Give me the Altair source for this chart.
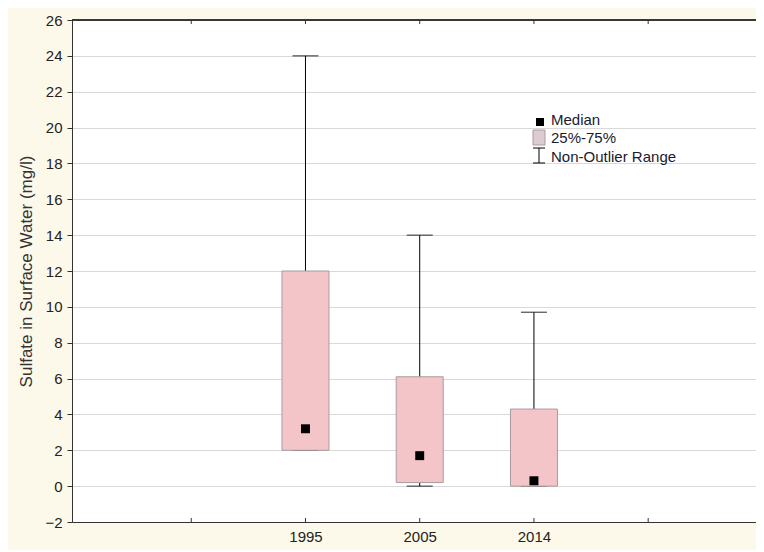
import altair as alt
import pandas as pd

years = ["1995", "2005", "2014"]
q1 = [2.0, 0.2, 0.0]
q3 = [12.0, 6.1, 4.3]
median = [3.2, 1.7, 0.3]
wmin = [2.0, 0.0, 0.0]
wmax = [24.0, 14.0, 9.7]

x_slots = [1, 2, 3, 4, 5]          # category slots on the x axis (1 and 5 unlabeled)
year_slots = [2, 3, 4]
y_ticks = list(range(-2, 27, 2))

legend_labels = ["Median", "25%-75%", "Non-Outlier Range"]

df = pd.DataFrame({"year": years, "slot": year_slots, "q1": q1, "q3": q3,
                   "median": median, "wmin": wmin, "wmax": wmax})

FONT = "Liberation Sans"
W, H = 684, 502

label_expr = " : ".join(f"datum.value == {s} ? '{y}'" for s, y in zip(year_slots, years)) + " : ''"

xscale = alt.Scale(domain=[0, 5.9], nice=False, zero=False)
yscale = alt.Scale(domain=[-2, 26], nice=False, zero=False)

xaxis = alt.Axis(title=None, values=x_slots, labelExpr=label_expr,
                 labelAngle=0, tickSize=0, labelPadding=7, labelOverlap=False,
                 labelFontSize=15, labelFont=FONT, labelColor="#222",
                 domainColor="#333", grid=False)
xenc = alt.X("slot:Q", scale=xscale, axis=xaxis)
yaxis = alt.Axis(title="Sulfate in Surface Water (mg/l)", values=y_ticks,
                 tickSize=5, tickColor="#333", domainColor="#333",
                 labelFontSize=15, labelFont=FONT, labelColor="#222", labelPadding=5,
                 titleFont=FONT, titleFontSize=17, titleFontWeight="normal",
                 titleColor="#333", titlePadding=9,
                 gridColor="#d9d9d9")

base = alt.Chart(df)

whisk = base.mark_rule(color="black", strokeWidth=1).encode(
    x=xenc, y=alt.Y("wmin:Q", scale=yscale, axis=yaxis), y2="wmax:Q")
cap_hi = base.mark_tick(color="black", size=26, thickness=1.2, orient="horizontal").encode(
    x=xenc, y=alt.Y("wmax:Q", scale=yscale, axis=yaxis))
cap_lo = base.mark_tick(color="black", size=26, thickness=1.2, orient="horizontal").encode(
    x=xenc, y=alt.Y("wmin:Q", scale=yscale, axis=yaxis))
box = base.mark_bar(size=47, color="#f3c4c8", stroke="#a89c9c", strokeWidth=1,
                    orient="vertical").encode(
    x=xenc, y=alt.Y("q1:Q", scale=yscale, axis=yaxis), y2="q3:Q")
med = base.mark_square(color="black", size=80, opacity=1).encode(
    x=xenc, y=alt.Y("median:Q", scale=yscale, axis=yaxis))

# inside x ticks (bottom and top)
tdf = pd.DataFrame({"slot": x_slots})
xticks = alt.Chart(tdf).mark_rule(color="#333").encode(
    x=xenc, y=alt.value(H), y2=alt.value(H - 4))
xticks_top = alt.Chart(tdf).mark_rule(color="#333").encode(
    x=xenc, y=alt.value(0), y2=alt.value(4))
topline = alt.Chart(tdf).mark_rule(color="#333").encode(
    x=alt.value(0), x2=alt.value(W), y=alt.value(0))

# legend
ldf = pd.DataFrame({"label": legend_labels, "py": [100, 118, 137]})
ltext = alt.Chart(ldf).mark_text(align="left", baseline="middle", font=FONT,
                                 fontSize=15, color="#1a1a2e").encode(
    x=alt.value(479), y=alt.Y("py:Q", scale=None), text="label:N")
lmed = alt.Chart(ldf.iloc[[0]]).mark_square(color="black", size=64, opacity=1).encode(
    x=alt.value(468), y=alt.value(102))
lbox = alt.Chart(ldf.iloc[[1]]).mark_rect(color="#dccbd0", stroke="#a89c9c").encode(
    x=alt.value(461), x2=alt.value(473), y=alt.value(110), y2=alt.value(125))
lwh = alt.Chart(ldf.iloc[[2]]).mark_rule(color="black").encode(
    x=alt.value(467), y=alt.value(128), y2=alt.value(143))
lwh_t = alt.Chart(ldf.iloc[[2]]).mark_rule(color="black").encode(
    x=alt.value(461), x2=alt.value(473), y=alt.value(128))
lwh_b = alt.Chart(ldf.iloc[[2]]).mark_rule(color="black").encode(
    x=alt.value(461), x2=alt.value(473), y=alt.value(143))

chart = alt.layer(whisk, cap_hi, cap_lo, box, med, xticks, xticks_top, topline,
                  ltext, lmed, lbox, lwh, lwh_t, lwh_b).properties(
    width=W, height=H, background="#fdf9ea",
    padding={"left": 64, "top": 12, "right": 0, "bottom": 28},
    autosize=alt.AutoSizeParams(type="none"),
).configure_view(fill="white", stroke="#c8c8c8", strokeWidth=1)

chart.save("out.html", embed_options={"renderer": "svg", "actions": False})
